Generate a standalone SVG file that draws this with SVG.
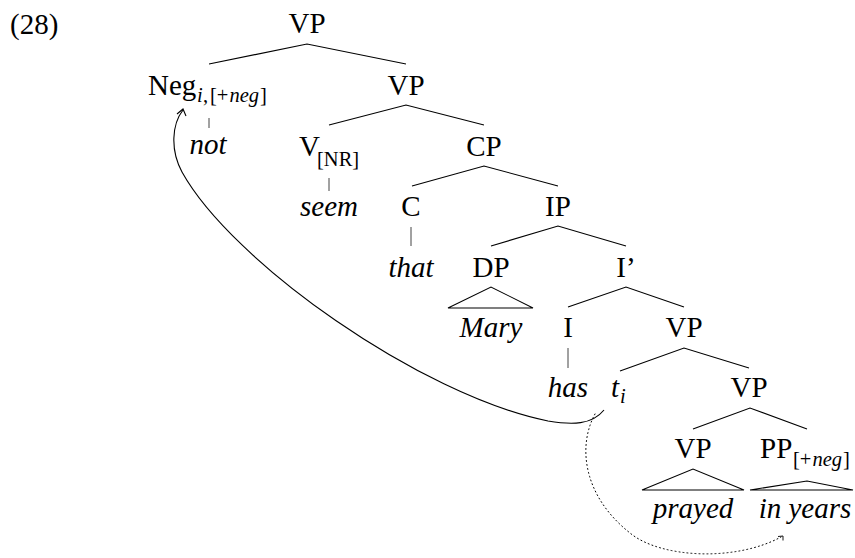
<svg xmlns="http://www.w3.org/2000/svg" width="855" height="558" viewBox="0 0 855 558" font-family="'Liberation Serif', 'DejaVu Serif', serif">
<style>
text{font-family:'Liberation Serif','DejaVu Serif',serif;font-size:29px;fill:#000}
.m{text-anchor:middle}
.it{font-style:italic}
.sub{font-size:20.5px}
.edge{stroke:#000;stroke-width:1.1;fill:none}
.tick{stroke:#444;stroke-width:1;fill:none}
.tri{stroke:#000;stroke-width:1.1;fill:none}
</style>
<rect width="855" height="558" fill="#fff"/>
<text id="label" x="10" y="34">(28)</text>

<g id="connectors">
<path class="edge" d="M209,64 L307,44 L406,64"/>
<path class="edge" d="M329,125 L406,105 L484,125"/>
<path class="edge" d="M412,186 L484,166 L558,186"/>
<path class="edge" d="M491,246 L558,226 L626,246"/>
<path class="edge" d="M568,307 L626,287 L684,307"/>
<path class="edge" d="M620,371 L684,348 L749,368"/>
<path class="edge" d="M693,429 L750,408 L807,429"/>
<path class="tick" d="M209,118 V128"/>
<path class="tick" d="M329,178 V191"/>
<path class="tick" d="M411,227 V246"/>
<path class="tick" d="M568,348 V368"/>
<path class="edge" d="M604,410 C592,425 572,425 548,421 C420,395 232,262 182,172 C170,150 172,124 183,110"/>
<path class="edge" d="M177,114 L183,109 L186,116"/>
<path d="M595,414 C578,445 582,495 630,533 C660,558 735,562 781,537" fill="none" stroke="#000" stroke-width="1" stroke-dasharray="1 3" stroke-linecap="round"/>
<path d="M778,536.5 L783,536 L783,540.5" fill="none" stroke="#000" stroke-width="0.9"/>
</g>

<g id="n-vp1"><text class="m" x="307" y="33">VP</text></g>
<g id="n-neg"><text x="148" y="95">Neg<tspan class="sub it" x="197" y="102">i</tspan><tspan class="sub" x="203" y="102">,</tspan><tspan class="sub" x="210" y="102">[+</tspan><tspan class="sub it" x="229.5" y="102">neg</tspan><tspan class="sub" x="260" y="102">]</tspan></text></g>
<g id="n-not"><text class="m it" x="208" y="154">not</text></g>
<g id="n-vp2"><text class="m" x="406" y="95">VP</text></g>
<g id="n-v"><text x="299" y="156">V<tspan class="sub" x="317" y="166">[NR]</tspan></text></g>
<g id="n-seem"><text class="m it" x="329" y="216">seem</text></g>
<g id="n-cp"><text class="m" x="484" y="156">CP</text></g>
<g id="n-c"><text class="m" x="411" y="216">C</text></g>
<g id="n-that"><text class="m it" x="411" y="277">that</text></g>
<g id="n-ip"><text class="m" x="558" y="216">IP</text></g>
<g id="n-dp"><text class="m" x="491" y="277">DP</text>
<path class="tri" d="M448,308 L491,287 L533,308 Z"/></g>
<g id="n-mary"><text class="m it" x="491" y="337">Mary</text></g>
<g id="n-ibar"><text class="m" x="626" y="277">I’</text></g>
<g id="n-i"><text class="m" x="568" y="337">I</text></g>
<g id="n-has"><text class="m it" x="568" y="397">has</text></g>
<g id="n-vp3"><text class="m" x="684" y="337">VP</text></g>
<g id="n-ti"><text class="it" x="611" y="397">t<tspan class="sub" x="620" y="403">i</tspan></text></g>
<g id="n-vp4"><text class="m" x="749" y="397">VP</text></g>
<g id="n-vp5"><text class="m" x="693" y="458">VP</text>
<path class="tri" d="M642,490 L693,469 L744,490 Z"/></g>
<g id="n-pp"><text x="760" y="458">PP<tspan class="sub" x="793" y="466">[+</tspan><tspan class="sub it" x="812.5" y="466">neg</tspan><tspan class="sub" x="843" y="466">]</tspan></text>
<path class="tri" d="M750,490 L807,481 L853,490 Z"/></g>
<g id="n-prayed"><text class="m it" x="693" y="518">prayed</text></g>
<g id="n-inyears"><text class="m it" x="805" y="518">in years</text></g>
</svg>
